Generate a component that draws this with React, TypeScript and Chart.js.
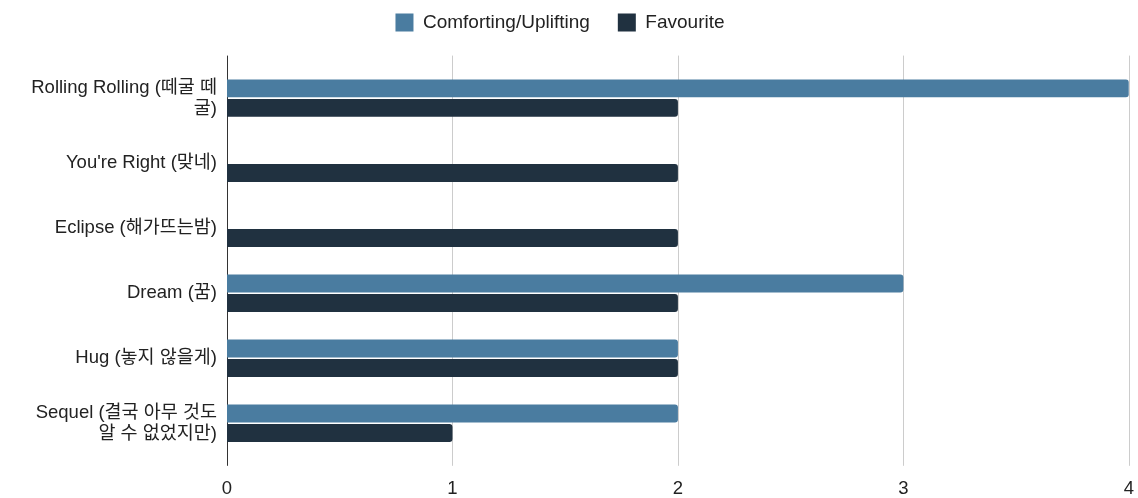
import React, { useEffect, useRef } from "react";
import { Chart, registerables } from "chart.js";

Chart.register(...registerables);

const categories: (string | string[])[] = [
  ["Rolling Rolling (떼굴 떼", "굴)"],
  "You're Right (맞네)",
  "Eclipse (해가뜨는밤)",
  "Dream (꿈)",
  "Hug (놓지 않을게)",
  ["Sequel (결국 아무 것도", "알 수 없었지만)"],
];
const comfortingValues = [4, 0, 0, 3, 2, 2];
const favouriteValues = [2, 2, 2, 2, 2, 1];
const xTicks = [0, 1, 2, 3, 4];

const FONT = "'Liberation Sans', Arial, 'Noto Sans CJK KR', sans-serif";
const PAD_TOP = -15;
const PAD_LEFT = -18;
const AREA_TOP = 65.6;
const AREA_LEFT = 227;

const gridPlugin = {
  id: "extGrid",
  beforeInit(chart: any) {
    const lg = chart.legend;
    if (lg) {
      const orig = lg.fit.bind(lg);
      lg.fit = function () {
        orig();
        this.height = AREA_TOP - PAD_TOP;
      };
    }
  },
  beforeDatasetsDraw(chart: any) {
    const { ctx, chartArea, scales } = chart;
    const xs = scales.x;
    ctx.save();
    xs.ticks.forEach((t: any) => {
      const px = Math.round(xs.getPixelForValue(t.value)) + 0.5;
      ctx.beginPath();
      ctx.strokeStyle = t.value === 0 ? "#333333" : "#cccccc";
      ctx.lineWidth = 1;
      ctx.moveTo(px, chartArea.top - 10);
      ctx.lineTo(px, chartArea.bottom + 10);
      ctx.stroke();
    });
    ctx.restore();
  },
};

export default function App() {
  const ref = useRef<HTMLCanvasElement>(null);
  useEffect(() => {
    if (!ref.current) return;
    const chart = new Chart(ref.current, {
      type: "bar",
      data: {
        labels: categories,
        datasets: [
          {
            label: "Comforting/Uplifting",
            data: comfortingValues,
            backgroundColor: "#4a7ca0",
            borderRadius: 3,
            borderSkipped: "start",
            categoryPercentage: 0.6,
            barPercentage: 0.92,
          },
          {
            label: "Favourite",
            data: favouriteValues,
            backgroundColor: "#203140",
            borderRadius: 3,
            borderSkipped: "start",
            categoryPercentage: 0.6,
            barPercentage: 0.92,
          },
        ],
      },
      options: {
        indexAxis: "y",
        animation: false,
        responsive: true,
        maintainAspectRatio: false,
        layout: { padding: { top: PAD_TOP, right: 0, bottom: -6, left: PAD_LEFT } },
        plugins: {
          legend: {
            position: "top",
            labels: {
              boxWidth: 18,
              boxHeight: 18,
              padding: 28,
              color: "#222222",
              font: { family: FONT, size: 19 },
            },
          },
          tooltip: { enabled: false },
        },
        scales: {
          x: {
            type: "linear",
            min: 0,
            max: 4,
            afterBuildTicks: (s: any) => {
              s.ticks = xTicks.map((v) => ({ value: v }));
            },
            grid: { display: false, drawTicks: true, tickLength: 18 },
            border: { display: false },
            ticks: {
              padding: 4,
              color: "#222222",
              font: { family: FONT, size: 18.5 },
            },
          },
          y: {
            type: "category",
            grid: { display: false, drawTicks: false },
            border: { display: false },
            afterFit: (s: any) => {
              s.width = AREA_LEFT - PAD_LEFT;
            },
            ticks: {
              padding: 10,
              color: "#222222",
              font: { family: FONT, size: 18.5, lineHeight: 1.15 },
            },
          },
        },
      },
      plugins: [gridPlugin],
    });
    return () => chart.destroy();
  }, []);
  return (
    <div style={{ position: "fixed", left: 0, top: 0, width: 1138, height: 498 }}>
      <canvas ref={ref} />
    </div>
  );
}
